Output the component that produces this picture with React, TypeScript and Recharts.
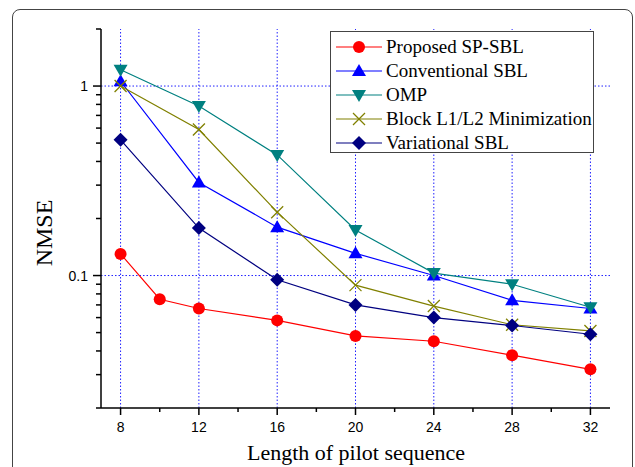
import React from "react";
import { LineChart, Line, XAxis, YAxis, ReferenceLine } from "recharts";

// pilot lengths (x) and NMSE values
const pilotLengths = [8, 12, 16, 20, 24, 28, 32];
const proposedLengths = [8, 10, 12, 16, 20, 24, 28, 32];

const proposedSpSbl = [0.13, 0.075, 0.067, 0.058, 0.048, 0.045, 0.038, 0.032];
const conventionalSbl = [1.06, 0.31, 0.18, 0.131, 0.1, 0.074, 0.067];
const omp = [1.22, 0.785, 0.433, 0.174, 0.103, 0.09, 0.068];
const blockL1L2 = [1.0, 0.59, 0.216, 0.089, 0.069, 0.055, 0.051];
const variationalSbl = [0.52, 0.178, 0.095, 0.07, 0.06, 0.0545, 0.049];

const xTicks = [8, 10, 12, 14, 16, 18, 20, 22, 24, 26, 28, 30, 32];
const xMajor = [8, 12, 16, 20, 24, 28, 32];
const yTicks = [
  2, 1, 0.9, 0.8, 0.7, 0.6, 0.5, 0.4, 0.3, 0.2,
  0.1, 0.09, 0.08, 0.07, 0.06, 0.05, 0.04, 0.03, 0.02,
];
const yLabels: Record<string, string> = { "1": "1", "0.1": "0.1" };

const toRows = (xs: number[], ys: number[]) =>
  xs.map((x, i) => ({ x, y: ys[i] }));

type Shape = "circle" | "up" | "down" | "cross" | "diamond";

const series: { name: string; color: string; shape: Shape; rows: { x: number; y: number }[] }[] = [
  { name: "Proposed SP-SBL", color: "#ff0000", shape: "circle", rows: toRows(proposedLengths, proposedSpSbl) },
  { name: "Conventional SBL", color: "#0000ff", shape: "up", rows: toRows(pilotLengths, conventionalSbl) },
  { name: "OMP", color: "#008080", shape: "down", rows: toRows(pilotLengths, omp) },
  { name: "Block L1/L2 Minimization", color: "#808000", shape: "cross", rows: toRows(pilotLengths, blockL1L2) },
  { name: "Variational SBL", color: "#000080", shape: "diamond", rows: toRows(pilotLengths, variationalSbl) },
];

function Marker({ cx, cy, shape, color }: { cx: number; cy: number; shape: Shape; color: string }) {
  if (cx == null || cy == null) return null;
  switch (shape) {
    case "circle":
      return <circle cx={cx} cy={cy} r={6} fill={color} />;
    case "up":
      return <polygon points={`${cx},${cy - 7} ${cx + 7},${cy + 5} ${cx - 7},${cy + 5}`} fill={color} />;
    case "down":
      return <polygon points={`${cx},${cy + 7} ${cx + 7},${cy - 5} ${cx - 7},${cy - 5}`} fill={color} />;
    case "cross":
      return (
        <g stroke={color} strokeWidth={1.3}>
          <line x1={cx - 6} y1={cy - 6} x2={cx + 6} y2={cy + 6} />
          <line x1={cx - 6} y1={cy + 6} x2={cx + 6} y2={cy - 6} />
        </g>
      );
    default:
      return <polygon points={`${cx},${cy - 7} ${cx + 7},${cy} ${cx},${cy + 7} ${cx - 7},${cy}`} fill={color} />;
  }
}

const tickFont = "Liberation Sans, Arial, sans-serif";
const serif = "Liberation Serif, Times New Roman, serif";

function XTick(props: any) {
  const { x, y, payload } = props;
  const major = xMajor.includes(payload.value);
  return (
    <g>
      <line x1={x} y1={y} x2={x} y2={y + (major ? 7 : 4)} stroke="#000" strokeWidth={1.5} />
      {major && (
        <text x={x} y={y + 24} textAnchor="middle" fontSize={14} fontFamily={tickFont} fill="#000">
          {payload.value}
        </text>
      )}
    </g>
  );
}

function YTick(props: any) {
  const { x, y, payload } = props;
  const label = yLabels[String(payload.value)];
  return (
    <g>
      <line x1={x} y1={y} x2={x - (label ? 8 : 5)} y2={y} stroke="#000" strokeWidth={1.5} />
      {label && (
        <text x={x - 13} y={y + 5} textAnchor="end" fontSize={14} fontFamily={tickFont} fill="#000">
          {label}
        </text>
      )}
    </g>
  );
}

const gridStyle = { stroke: "#2020ff", strokeDasharray: "1.5 2", strokeWidth: 1 };

export default function App() {
  return (
    <div style={{ position: "absolute", left: 0, top: 0, width: 635, height: 467, overflow: "hidden", background: "#fff" }}>
      <div
        style={{
          position: "absolute",
          left: 12,
          top: 9,
          width: 619,
          height: 520,
          border: "1.5px solid #444",
          borderRadius: 8,
        }}
      />
      <LineChart width={635} height={467} margin={{ top: 29, right: 25, left: 61, bottom: 29 }}>
        <XAxis
          dataKey="x"
          type="number"
          domain={[7, 33]}
          ticks={xTicks}
          interval={0}
          tick={<XTick />}
          tickLine={false}
          tickSize={0}
          tickMargin={0}
          height={30}
          axisLine={{ stroke: "#000", strokeWidth: 1.5 }}
          allowDuplicatedCategory={false}
        />
        <YAxis
          dataKey="y"
          type="number"
          scale="log"
          domain={[0.02, 2]}
          allowDataOverflow
          ticks={yTicks}
          interval={0}
          tick={<YTick />}
          tickLine={false}
          tickSize={0}
          tickMargin={0}
          width={40}
          axisLine={{ stroke: "#000", strokeWidth: 1.5 }}
        />
        {xMajor.map((v) => (
          <ReferenceLine key={"gx" + v} x={v} {...gridStyle} />
        ))}
        {[1, 0.1].map((v) => (
          <ReferenceLine key={"gy" + v} y={v} {...gridStyle} />
        ))}
        {series.map((s) => (
          <Line
            key={s.name}
            data={s.rows}
            dataKey="y"
            name={s.name}
            stroke={s.color}
            strokeWidth={1.2}
            isAnimationActive={false}
            dot={(p: any) => <Marker key={s.name + p.index} cx={p.cx} cy={p.cy} shape={s.shape} color={s.color} />}
            activeDot={false}
          />
        ))}
      </LineChart>
      <div
        style={{
          position: "absolute",
          left: 330,
          top: 31,
          width: 262,
          height: 120,
          border: "1.5px solid #444",
          background: "#fff",
          fontFamily: serif,
          fontSize: 19,
          color: "#000",
        }}
      >
        {series.map((s, i) => (
          <div key={s.name} style={{ position: "absolute", left: 5, top: 3 + i * 24, height: 24, display: "flex", alignItems: "center", whiteSpace: "nowrap" }}>
            <svg width={46} height={24} style={{ marginRight: 4 }}>
              <line x1={0} y1={12} x2={46} y2={12} stroke={s.color} strokeWidth={1.2} />
              <Marker cx={23} cy={12} shape={s.shape} color={s.color} />
            </svg>
            <span>{s.name}</span>
          </div>
        ))}
      </div>
      <div
        style={{
          position: "absolute",
          left: 44,
          top: 233,
          transform: "translate(-50%, -50%) rotate(-90deg)",
          fontFamily: serif,
          fontSize: 24,
          whiteSpace: "nowrap",
        }}
      >
        NMSE
      </div>
      <div
        style={{
          position: "absolute",
          left: 356,
          top: 440,
          transform: "translateX(-50%)",
          fontFamily: serif,
          fontSize: 22,
          whiteSpace: "nowrap",
          lineHeight: "26px",
        }}
      >
        Length of pilot sequence
      </div>
    </div>
  );
}
